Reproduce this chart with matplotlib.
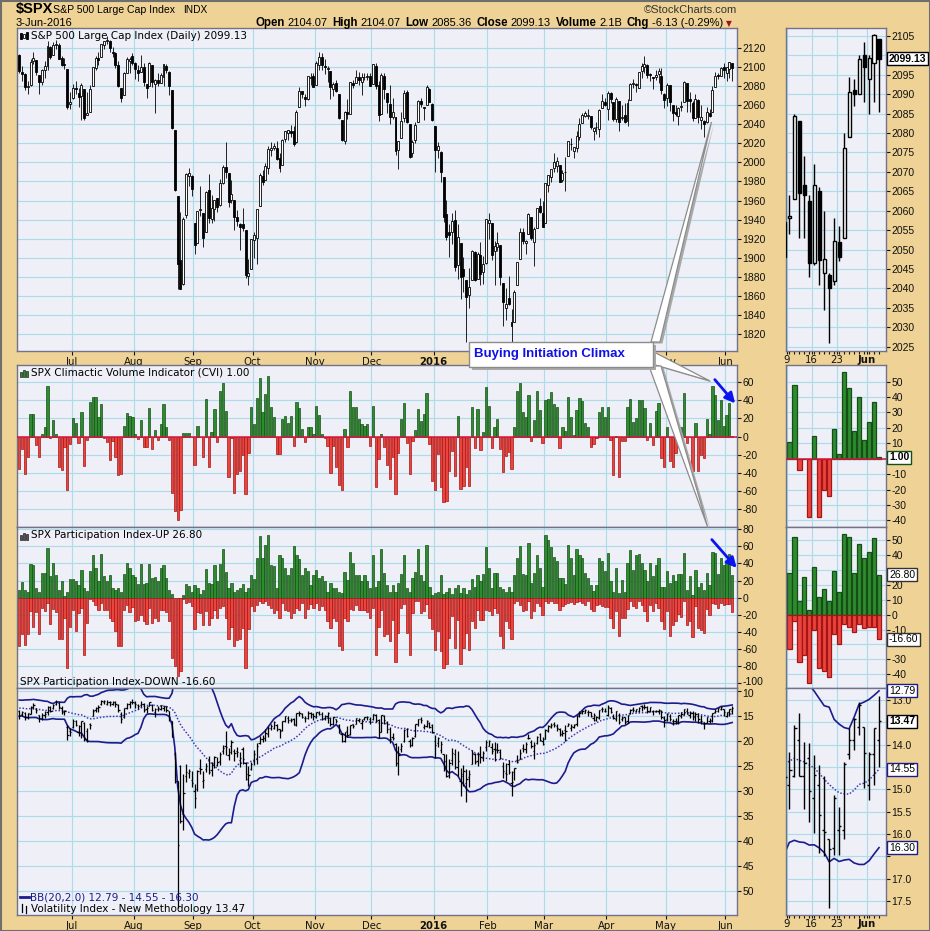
import numpy as np
import pandas as pd
import matplotlib
matplotlib.use('Agg')
import matplotlib.pyplot as plt
import matplotlib.transforms as mtrans
from matplotlib.patches import Rectangle, Polygon, FancyArrowPatch

# ---------------- data (daily, 4-Jun-2015 .. 3-Jun-2016) ----------------
holidays = ['2015-07-03', '2015-09-07', '2015-11-26', '2015-12-25', '2016-01-01',
            '2016-01-18', '2016-02-15', '2016-03-25', '2016-05-30']

spx_open = [
    2112, 2095, 2092, 2079, 2081, 2106, 2107, 2091, 2084, 2097, 2101, 2121, 2112, 2123, 2123, 2109, 2103, 2098, 2061,
    2067, 2078, 2073, 2069, 2077, 2050, 2053, 2080, 2099, 2109, 2110, 2123, 2127, 2127, 2115, 2114, 2102, 2078, 2070, 2094, 2106, 2111,
    2104, 2097, 2095, 2100, 2082, 2080, 2102, 2082, 2086, 2083, 2089, 2101, 2095, 2076, 2034, 1965, 1898, 1873, 1945, 1986, 1986,
    1936, 1916, 1950, 1947, 1927, 1971, 1941, 1951, 1963, 1955, 1978, 1995, 1989, 1961, 1961, 1943, 1935, 1935, 1929, 1881, 1888,
    1919, 1921, 1954, 1986, 1982, 1994, 2013, 2015, 2015, 2004, 1997, 2024, 2031, 2033, 2033, 2021, 2058, 2075, 2068, 2066, 2088, 2090,
    2081, 2102, 2110, 2101, 2098, 2096, 2077, 2083, 2072, 2044, 2022, 2053, 2051, 2083, 2083, 2089, 2084, 2089, 2089, 2090,
    2082, 2101, 2081, 2051, 2090, 2073, 2061, 2047, 2047, 2013, 2025, 2046, 2074, 2040, 2010, 2023, 2042, 2064, 2058, 2060, 2077, 2061,
    2038, 2013, 2011, 1985, 1946, 1927, 1927, 1940, 1892, 1916, 1888, 1877, 1861, 1877, 1906, 1878, 1903, 1885, 1895,
    1936, 1936, 1907, 1911, 1913, 1874, 1848, 1858, 1833, 1833, 1872, 1899, 1927, 1916, 1925, 1943, 1917, 1931, 1954, 1947,
    1937, 1976, 1985, 1994, 1996, 1997, 1981, 1990, 2007, 2019, 2012, 2015, 2027, 2041, 2049, 2048, 2049, 2033, 2037, 2035, 2057, 2063,
    2056, 2073, 2063, 2045, 2064, 2046, 2050, 2043, 2065, 2082, 2082, 2078, 2096, 2100, 2102, 2092, 2089, 2089, 2092, 2090, 2071,
    2067, 2081, 2060, 2053, 2048, 2058, 2063, 2083, 2066.5, 2062.5, 2046.5, 2065, 2044, 2043.5, 2042, 2052, 2053, 2079, 2091, 2090, 2100,
    2094, 2098, 2104.07]
spx_high = [
    2113, 2101, 2093, 2085, 2108, 2115, 2107, 2091, 2098, 2106, 2127, 2122, 2126, 2128, 2125, 2111, 2109, 2098, 2074,
    2082, 2085, 2078, 2083, 2077, 2074, 2081, 2100, 2111, 2115, 2124, 2126, 2132, 2128, 2121, 2116, 2106, 2078, 2095, 2110, 2110, 2114,
    2105, 2102, 2112, 2104, 2082, 2105, 2102, 2087, 2093, 2093, 2103, 2103, 2096, 2076, 2034, 1965, 1948, 1943, 1989, 1994, 1987,
    1936, 1949, 1975, 1947, 1970, 1988, 1966, 1961, 1963, 1983, 1997, 2021, 1989, 1981, 1961, 1950, 1937, 1952, 1929, 1899, 1920,
    1927, 1951, 1989, 1992, 1999, 2017, 2021, 2020, 2022, 2010, 2024, 2033, 2034, 2039, 2038, 2055, 2079, 2075, 2071, 2090, 2094, 2094,
    2106, 2116, 2114, 2108, 2101, 2096, 2084, 2086, 2072, 2044, 2054, 2066, 2084, 2086, 2097, 2095, 2094, 2094, 2094, 2094,
    2103, 2104, 2085, 2094, 2093, 2073, 2081, 2067, 2047, 2022, 2053, 2076, 2076, 2040, 2023, 2042, 2065, 2067, 2058, 2081, 2078, 2062,
    2038, 2021, 2012, 1985, 1961, 1935, 1947, 1950, 1935, 1916, 1901, 1877, 1889, 1908, 1907, 1906, 1917, 1902, 1940,
    1947, 1936, 1918, 1927, 1913, 1874, 1868, 1881, 1846, 1866, 1896, 1931, 1931, 1919, 1947, 1943, 1932, 1952, 1963, 1959,
    1978, 1986, 1993, 2010, 2006, 1997, 1992, 2006, 2022, 2025, 2016, 2033, 2046, 2052, 2054, 2056, 2049, 2037, 2042, 2056, 2072, 2067,
    2075, 2074, 2056, 2068, 2064, 2060, 2062, 2066, 2083, 2087, 2083, 2095, 2104, 2111, 2103, 2094, 2089, 2097, 2099, 2099, 2073,
    2083, 2081, 2060, 2060, 2058, 2064, 2085, 2083, 2074, 2064, 2072, 2066, 2060, 2044, 2058, 2056, 2080, 2094.5, 2094, 2100, 2103.5,
    2100, 2105.5, 2104.07]
spx_low = [
    2093, 2085, 2076, 2072, 2080, 2103, 2091, 2072, 2081, 2088, 2097, 2108, 2112, 2119, 2108, 2101, 2098, 2056, 2056,
    2066, 2071, 2058, 2044, 2044, 2050, 2053, 2080, 2097, 2102, 2110, 2119, 2124, 2116, 2110, 2099, 2079, 2063, 2070, 2094, 2094, 2102,
    2087, 2085, 2095, 2080, 2067, 2080, 2079, 2052, 2080, 2083, 2080, 2094, 2070, 2035, 1970, 1867, 1867, 1872, 1942, 1975, 1965,
    1904, 1916, 1944, 1911, 1927, 1937, 1937, 1939, 1948, 1954, 1977, 1984, 1953, 1957, 1929, 1933, 1908, 1928, 1879, 1872, 1888,
    1900, 1894, 1954, 1976, 1982, 1988, 2007, 2013, 2002, 1990, 1997, 2021, 2023, 2027, 2017, 2020, 2058, 2067, 2059, 2065, 2081, 2079,
    2081, 2097, 2097, 2092, 2084, 2066, 2069, 2074, 2045, 2022, 2019, 2045, 2051, 2078, 2083, 2081, 2070, 2086, 2086, 2080,
    2082, 2077, 2043, 2051, 2066, 2052, 2040, 2045, 2008, 1993, 2025, 2042, 2041, 2005, 2006, 2020, 2042, 2058, 2044, 2060, 2063, 2043,
    1990, 2004, 1979, 1938, 1919, 1901, 1914, 1886, 1878, 1857, 1864, 1812, 1848, 1877, 1876, 1878, 1872, 1873, 1894,
    1920, 1898, 1872, 1907, 1872, 1829, 1835, 1851, 1810, 1833, 1872, 1899, 1914, 1904, 1925, 1919, 1891, 1931, 1947, 1932,
    1937, 1969, 1979, 1990, 1990, 1979, 1979, 1970, 2007, 2013, 2005, 2011, 2023, 2042, 2047, 2045, 2035, 2023, 2030, 2026, 2057, 2059,
    2044, 2062, 2043, 2042, 2033, 2044, 2041, 2038, 2065, 2078, 2074, 2078, 2088, 2093, 2088, 2085, 2077, 2086, 2083, 2072, 2057,
    2059, 2054, 2043, 2049, 2039, 2054, 2063, 2053, 2053, 2043, 2046, 2041, 2034.5, 2026, 2041, 2047, 2053, 2079, 2087, 2090, 2088,
    2085, 2088, 2085.36]
spx_close = [
    2095.84, 2092.83, 2079.28, 2080.15, 2105.20, 2108.86, 2094.11, 2084.43, 2096.29, 2100.44, 2121.24, 2109.99, 2122.85, 2124.20, 2108.58, 2102.31, 2101.49, 2057.64, 2063.11,
    2077.42, 2076.78, 2068.76, 2081.34, 2046.68, 2051.31, 2076.62, 2099.60, 2108.95, 2107.40, 2124.29, 2126.64, 2128.28, 2119.21, 2114.15, 2102.15, 2079.65, 2067.64, 2093.25, 2108.57, 2108.63, 2103.84,
    2098.04, 2093.32, 2099.84, 2083.56, 2077.57, 2104.18, 2084.07, 2086.05, 2083.39, 2091.54, 2102.44, 2096.92, 2079.61, 2035.73, 1970.89, 1893.21, 1867.61, 1940.51, 1987.66, 1988.87, 1972.18,
    1913.85, 1948.86, 1951.13, 1921.22, 1969.41, 1942.04, 1952.29, 1961.05, 1953.03, 1978.09, 1995.31, 1990.20, 1958.03, 1966.97, 1942.74, 1938.76, 1932.24, 1931.34, 1881.77, 1884.09, 1920.03,
    1923.82, 1951.36, 1987.05, 1979.92, 1995.83, 2013.43, 2014.89, 2017.46, 2003.69, 1994.24, 2023.86, 2033.11, 2033.66, 2030.77, 2018.94, 2052.51, 2075.15, 2071.18, 2065.89, 2090.35, 2089.41, 2079.36,
    2104.05, 2109.79, 2102.31, 2099.93, 2099.20, 2078.58, 2081.72, 2075.00, 2045.97, 2023.04, 2053.19, 2050.44, 2083.58, 2081.24, 2089.17, 2086.59, 2089.14, 2088.87, 2090.11, 2080.41,
    2102.63, 2079.51, 2049.62, 2091.69, 2077.07, 2063.59, 2047.62, 2052.23, 2012.37, 2021.94, 2043.41, 2073.07, 2041.89, 2005.55, 2021.15, 2038.97, 2064.29, 2060.99, 2056.50, 2078.36, 2063.36, 2043.94,
    2012.66, 2016.71, 1990.26, 1943.09, 1922.03, 1923.67, 1938.68, 1890.28, 1921.84, 1880.33, 1881.33, 1859.33, 1868.99, 1906.90, 1877.08, 1903.63, 1882.95, 1893.36, 1940.24,
    1939.38, 1903.03, 1912.53, 1915.45, 1880.05, 1853.44, 1852.21, 1851.86, 1829.08, 1864.78, 1895.58, 1926.82, 1917.83, 1917.78, 1945.50, 1921.27, 1929.80, 1951.70, 1948.05, 1932.23,
    1978.35, 1986.45, 1993.40, 1999.99, 2001.76, 1979.26, 1989.26, 1989.57, 2022.19, 2019.64, 2015.93, 2027.22, 2040.59, 2049.58, 2051.60, 2049.80, 2036.71, 2035.94, 2037.05, 2055.01, 2063.95, 2059.74,
    2072.78, 2066.13, 2045.17, 2066.66, 2041.91, 2047.60, 2041.99, 2061.72, 2082.42, 2082.78, 2080.73, 2094.34, 2100.80, 2102.40, 2091.48, 2091.58, 2087.79, 2091.70, 2095.15, 2075.81, 2065.30,
    2081.43, 2063.37, 2051.12, 2050.63, 2057.14, 2058.69, 2084.39, 2064.46, 2064.11, 2046.61, 2066.66, 2047.21, 2047.63, 2040.04, 2052.32, 2048.04, 2076.06, 2090.54, 2090.10, 2099.06, 2096.95,
    2099.33, 2105.26, 2099.13]

cvi = [
    -36, -14, -41, -22, 25, 25, -9, -22, 3, 10, 56, -2, 18, 3, -33, -37, -12, -59, -8,
    20, 15, -7, 27, -32, -4, 38, 44, 44, 21, 36, -2, -6, -26, -5, -22, -42, -41, 12, 26, 23, 22,
    3, -3, 18, -11, -11, 31, -14, 7, -4, 14, 36, 11, -4, -62, -82, -92, -81, 4, 4, 4, 0,
    -31, 12, 0, -22, 41, -33, 5, 30, -6, 50, 59, 28, -45, -2, -62, -41, -38, -20, -63, -18, 32,
    14, 43, 65, 27, 47, 67, 33, 22, -19, -19, 19, 23, 15, 23, -10, 38, 31, 8, -6, 11, 11, 3,
    34, 24, 3, -2, -10, -40, -10, -34, -53, -59, 8, -12, 50, 33, 33, 19, 14, 12, 14, -10,
    34, -56, -25, 3, -12, -31, -47, -22, -63, -18, 19, 37, -7, -41, -5, 7, 30, 17, 25, 48, -8, -49,
    -59, -19, -56, -72, -71, -38, -16, -43, 23, -58, -55, -34, -55, 32, -13, 30, -15, 5, 55,
    34, -13, 11, 19, -14, -39, -21, -17, -36, 10, 50, 59, 27, 22, 46, -5, 18, 50, 29, -7,
    40, 41, 49, 36, 33, -13, 10, 6, 44, 21, 2, 29, 43, 39, 15, 10, -11, -8, -2, 27, 32, 22,
    32, -4, -42, 1, -44, -5, -5, 33, 41, 16, 20, 40, 40, 31, -4, 15, -9, 28, 37, -24, -34,
    10, -27, -34, -18, 5, 11, 48, -7, 0, -38, 15, -38, -20, -24, 19, 3, 56, 46, 18, 40, 12,
    24, 37, 1.00]

pi_up = [
    9, 18, 9, 7, 39, 38, 11, 7, 29, 29, 58, 25, 41, 27, 9, 19, 2, 7, 22,
    22, 19, 15, 32, 11, 8, 31, 50, 35, 19, 51, 25, 19, 27, 11, 9, 11, 7, 28, 41, 35, 27,
    24, 16, 39, 16, 17, 39, 23, 24, 19, 35, 38, 23, 9, 4, 0, 0, 0, 3, 16, 14, 7,
    15, 11, 4, 9, 33, 17, 16, 38, 19, 39, 57, 30, 11, 17, 7, 9, 11, 16, 7, 11, 27,
    22, 47, 72, 46, 62, 74, 38, 37, 11, 50, 46, 35, 27, 35, 60, 50, 45, 27, 35, 31, 15, 27,
    32, 23, 25, 19, 7, 17, 11, 11, 7, 5, 30, 21, 54, 41, 27, 27, 19, 26, 19, 11,
    50, 12, 19, 57, 29, 15, 7, 15, 7, 17, 28, 50, 11, 7, 23, 30, 57, 27, 19, 62, 12, 3,
    5, 7, 27, 4, 7, 11, 4, 11, 15, 5, 11, 4, 9, 22, 12, 27, 20, 28, 59,
    35, 11, 29, 29, 12, 10, 7, 12, 7, 27, 46, 61, 28, 27, 64, 17, 29, 50, 35, 13,
    73, 67, 59, 48, 43, 23, 23, 16, 62, 46, 27, 57, 50, 46, 29, 23, 15, 8, 15, 47, 43, 31,
    52, 19, 6, 35, 5, 21, 7, 41, 56, 32, 50, 51, 41, 32, 20, 41, 25, 38, 46, 12, 13,
    31, 17, 27, 19, 27.6, 28, 52, 9, 25, 3.4, 32, 12, 17, 9, 29, 15, 54, 52, 28, 47, 38,
    42, 51, 26.80]
pi_down = [
    -57, -43, -55, -43, -16, -34, -17, -43, -12, -16, -6, -31, -13, -17, -49, -49, -24, -82, -35,
    -15, -39, -18, -12, -67, -30, -2, -4, -9, -14, -6, -14, -14, -24, -28, -39, -57, -57, -14, -9, -17, -11,
    -28, -26, -20, -28, -31, -12, -30, -24, -28, -15, -14, -17, -28, -71, -80, -92, -86, -2, -6, -5, -10,
    -37, -17, -18, -32, -16, -32, -24, -14, -24, -12, -10, -24, -49, -34, -57, -50, -49, -36, -82, -37, -10,
    -16, -9, -4, -6, -4, -9, -12, -18, -15, -24, -6, -15, -16, -24, -18, -12, -14, -6, -24, -13, -8, -12,
    -6, -14, -10, -15, -28, -36, -24, -28, -57, -62, -24, -28, -13, -15, -9, -15, -14, -14, -17, -24,
    -12, -67, -35, -14, -45, -43, -51, -26, -75, -41, -12, -7, -41, -67, -18, -4, -4, -18, -16, -7, -24, -37,
    -61, -39, -63, -82, -78, -47, -22, -59, -26, -78, -59, -41, -61, -28, -36, -14, -26, -26, -15,
    -16, -20, -12, -18, -45, -59, -28, -36, -49, -6, -4, -9, -16, -14, -4, -24, -16, -6, -10, -20,
    -4, -6, -4, -6, -6, -14, -10, -8, -6, -5, -8, -5, -4, -6, -9, -4, -13, -16, -9, -7, -10, -11,
    -11, -24, -36, -16, -45, -24, -24, -13, -4, -10, -12, -4, -9, -16, -28, -9, -16, -6, -12, -28, -37,
    -16, -45, -32, -28, -19, -23, -4, -32, -27, -46, -10, -36, -38, -42, -13, -20, -6, -8, -12, -6, -9,
    -8, -8, -16.60]

vix_prior = [14.71, 12.86, 13.85, 13.86, 13.76, 12.74, 12.38, 12.73, 12.85, 12.88,
             12.11, 12.13, 14.06, 13.27, 13.31, 13.84, 14.73, 14.24, 13.66]
vix_open = [
    13.9, 14.5, 14.4, 15.1, 14.5, 13.1, 13.6, 14.8, 15.4, 14.8, 14.1, 13.2, 13.4, 12.6, 12.4, 13.3, 14.1, 17.1, 17.9,
    17.1, 16.0, 18.1, 17.0, 16.4, 18.0, 16.5, 14.9, 13.8, 13.3, 12.6, 12.1, 12.6, 12.2, 12.5, 12.1, 12.7, 14.5, 15.2, 13.4, 12.6, 12.1,
    12.3, 12.7, 12.8, 12.5, 13.6, 13.0, 12.8, 14.1, 13.6, 13.6, 13.4, 13.0, 14.0, 15.9, 22.6, 28.0, 25.0, 34.5, 27.0, 26.3, 27.8,
    30.0, 29.6, 25.3, 27.9, 25.6, 23.5, 25.8, 24.8, 24.7, 24.0, 22.0, 21.0, 22.7, 21.0, 22.0, 22.0, 23.8, 21.5, 24.4, 26.5, 25.5,
    24.0, 23.6, 20.4, 19.6, 19.4, 18.6, 17.3, 17.3, 16.7, 17.6, 17.8, 15.9, 15.4, 15.7, 15.6, 16.6, 14.3, 14.6, 15.4, 15.3, 14.3, 14.6,
    15.2, 14.3, 14.5, 15.4, 15.0, 15.4, 16.5, 15.6, 16.8, 18.6, 19.9, 18.0, 18.6, 16.6, 16.5, 15.8, 16.3, 15.6, 15.2, 15.5,
    15.6, 14.8, 15.8, 18.1, 14.9, 16.2, 17.5, 19.1, 20.6, 24.4, 21.5, 19.9, 17.5, 20.0, 20.8, 19.0, 16.6, 15.6, 17.1, 16.9, 16.3, 16.7,
    19.9, 20.3, 21.7, 22.6, 24.0, 26.8, 23.7, 22.5, 25.1, 28.0, 26.6, 28.3, 27.1, 24.5, 22.6, 24.0, 22.6, 23.3, 21.2,
    20.9, 21.1, 21.5, 21.7, 22.2, 25.0, 26.3, 24.6, 28.4, 26.1, 23.8, 23.5, 21.4, 21.5, 19.3, 20.1, 21.9, 20.3, 18.6, 19.9,
    19.5, 18.0, 17.2, 16.6, 17.0, 17.6, 18.5, 17.8, 16.9, 17.3, 17.1, 16.6, 14.8, 14.2, 14.3, 14.2, 14.2, 15.4, 15.7, 15.4, 13.6, 13.9,
    14.8, 13.4, 14.9, 15.6, 14.7, 15.5, 15.1, 15.9, 14.4, 13.6, 14.0, 13.9, 13.0, 13.1, 13.1, 13.9, 14.0, 14.0, 14.0, 14.0, 15.3,
    15.5, 14.9, 15.9, 15.9, 16.2, 14.9, 14.7, 13.9, 14.7, 14.3, 15.2, 14.9, 15.9, 16.1, 16.3, 15.9, 15.9, 14.2, 13.9, 13.6, 13.6,
    14.9, 14.2, 13.9]
vix_high = [
    15.5, 15.0, 15.8, 15.5, 14.6, 13.5, 14.4, 16.1, 15.7, 15.4, 14.8, 14.2, 13.6, 12.8, 13.5, 14.6, 14.8, 19.8, 19.0,
    17.4, 17.0, 18.9, 19.3, 20.0, 20.1, 17.5, 15.0, 14.1, 14.2, 12.7, 12.5, 12.8, 13.0, 12.8, 13.1, 14.2, 16.3, 15.3, 13.5, 13.4, 12.6,
    13.4, 13.6, 13.2, 14.2, 14.4, 13.0, 13.9, 15.2, 14.0, 13.8, 13.9, 14.2, 15.9, 19.2, 28.4, 53.3, 36.4, 37.8, 28.1, 27.3, 29.1,
    33.4, 30.0, 26.5, 29.3, 26.2, 26.6, 27.0, 25.3, 25.0, 24.7, 22.5, 22.7, 23.7, 22.6, 24.0, 23.1, 25.2, 24.6, 27.8, 28.9, 25.8,
    24.8, 24.5, 20.6, 20.2, 19.9, 19.1, 17.8, 17.5, 18.0, 19.3, 17.9, 16.1, 16.3, 16.2, 16.8, 17.0, 15.0, 15.4, 16.2, 15.6, 15.4, 15.8,
    15.3, 14.8, 15.8, 15.8, 16.4, 17.0, 16.8, 16.4, 18.4, 20.1, 20.1, 19.2, 18.7, 17.4, 16.6, 16.2, 17.5, 15.8, 15.8, 16.5,
    15.7, 16.1, 19.4, 18.1, 16.5, 18.4, 20.3, 19.8, 25.0, 26.8, 22.2, 20.2, 19.2, 21.1, 21.0, 19.1, 17.0, 16.3, 17.5, 17.1, 17.4, 18.3,
    23.4, 21.1, 22.4, 25.9, 27.1, 27.4, 24.8, 25.6, 26.9, 30.9, 28.9, 32.1, 29.1, 24.6, 24.6, 25.0, 24.4, 23.9, 22.0,
    21.0, 22.5, 24.0, 22.4, 23.5, 27.3, 28.0, 26.6, 30.9, 27.7, 24.3, 23.6, 22.1, 22.4, 19.5, 21.3, 23.6, 20.5, 20.0, 20.7,
    19.5, 18.1, 17.3, 17.2, 17.9, 19.0, 19.0, 19.9, 17.0, 17.9, 17.3, 16.9, 15.2, 14.6, 14.4, 14.9, 15.2, 15.9, 16.0, 15.5, 14.1, 14.2,
    15.0, 14.3, 15.6, 16.0, 16.6, 16.0, 16.5, 16.3, 14.6, 14.2, 14.2, 14.1, 13.9, 13.6, 14.4, 14.1, 14.8, 14.2, 14.6, 15.6, 17.1,
    15.9, 16.0, 16.8, 16.5, 16.5, 15.43, 14.72, 14.68, 15.43, 15.72, 15.98, 16.43, 16.5, 17.66, 16.47, 16.47, 16.1, 14.31, 14.12, 13.78, 14.97,
    15.24, 14.9, 14.5]
vix_low = [
    13.8, 14.0, 14.2, 14.3, 13.0, 12.4, 13.3, 14.7, 14.3, 13.9, 13.0, 13.0, 12.5, 11.8, 12.2, 13.0, 13.7, 16.8, 17.3,
    15.6, 15.8, 16.7, 15.9, 16.2, 17.3, 16.3, 13.6, 13.2, 12.8, 11.8, 11.8, 11.8, 12.0, 11.9, 12.0, 12.5, 14.2, 13.3, 12.4, 12.0, 11.6,
    12.0, 12.5, 12.0, 12.4, 13.0, 12.2, 12.6, 13.3, 12.9, 12.8, 12.9, 12.9, 13.9, 15.9, 22.2, 28.0, 24.8, 26.5, 24.6, 25.5, 26.0,
    28.5, 25.8, 23.5, 26.0, 24.4, 23.0, 24.1, 22.9, 23.2, 22.2, 20.8, 18.0, 21.3, 19.8, 21.6, 21.2, 22.1, 21.2, 24.2, 25.0, 24.1,
    21.8, 20.4, 18.9, 18.7, 17.6, 17.0, 16.6, 15.9, 16.5, 17.6, 15.9, 14.9, 15.0, 15.3, 15.3, 14.3, 13.9, 14.4, 14.9, 14.0, 14.2, 14.4,
    14.1, 13.9, 14.2, 14.8, 14.1, 15.4, 15.2, 15.5, 16.6, 18.3, 18.1, 17.0, 16.8, 16.6, 15.4, 15.4, 15.5, 15.1, 14.9, 15.2,
    14.6, 14.6, 15.5, 14.8, 14.8, 15.9, 17.2, 18.3, 20.4, 20.9, 20.4, 17.6, 17.4, 19.6, 19.2, 16.5, 15.5, 15.2, 16.6, 15.8, 16.2, 16.5,
    18.8, 19.2, 20.0, 22.5, 22.5, 23.5, 21.4, 21.5, 22.0, 25.3, 24.8, 25.5, 25.8, 21.8, 22.4, 22.1, 21.0, 21.9, 19.8,
    19.7, 20.4, 20.1, 20.3, 21.6, 24.2, 24.3, 23.7, 26.0, 25.3, 22.8, 21.6, 20.5, 20.2, 18.6, 19.8, 20.2, 18.9, 18.4, 19.2,
    17.6, 16.7, 16.3, 16.2, 16.5, 17.4, 17.7, 16.7, 16.4, 16.6, 16.5, 14.8, 14.0, 13.7, 13.6, 13.7, 14.1, 14.4, 14.9, 13.7, 13.2, 13.4,
    12.8, 13.2, 14.5, 13.9, 14.4, 14.9, 15.1, 14.7, 13.6, 13.2, 13.5, 13.2, 12.7, 12.5, 13.0, 13.1, 13.8, 13.7, 13.5, 13.8, 14.9,
    14.3, 14.6, 15.5, 15.4, 14.7, 14.16, 13.56, 13.3, 13.93, 13.97, 14.23, 14.46, 14.7, 16.28, 15.13, 15.39, 14.38, 13.63, 13.41, 13.04, 13.63,
    14.16, 13.63, 12.9]
vix_close = [
    14.71, 14.21, 15.29, 14.47, 13.22, 12.85, 13.78, 15.39, 14.81, 14.50, 13.19, 13.96, 12.74, 12.11, 13.26, 14.01, 14.02, 18.85, 18.23,
    16.09, 16.79, 17.01, 16.09, 19.66, 19.97, 16.83, 13.90, 13.37, 13.23, 11.95, 11.95, 12.25, 12.22, 12.12, 12.64, 13.74, 15.60, 13.44, 12.50, 12.13, 12.12,
    12.56, 13.00, 12.51, 13.77, 13.39, 12.23, 13.71, 13.61, 13.49, 12.83, 13.02, 13.79, 15.25, 19.14, 28.03, 40.74, 36.02, 30.32, 26.10, 26.05, 28.43,
    31.40, 26.09, 25.61, 27.80, 24.90, 26.23, 24.37, 23.20, 24.25, 22.54, 21.35, 21.14, 22.28, 20.14, 22.44, 22.13, 23.47, 23.62, 27.63, 26.83, 24.50,
    22.55, 20.94, 19.54, 19.40, 18.40, 17.42, 17.08, 16.17, 17.67, 18.03, 16.05, 15.05, 15.75, 15.75, 16.70, 14.45, 14.46, 15.29, 15.43, 14.33, 14.61, 15.07,
    14.15, 14.54, 15.51, 15.05, 14.33, 16.52, 15.29, 16.06, 18.37, 20.08, 18.16, 18.84, 16.85, 16.99, 15.47, 15.62, 15.93, 15.19, 15.12, 16.13,
    14.67, 15.91, 18.11, 14.81, 15.84, 17.60, 19.61, 19.34, 24.39, 22.73, 20.95, 17.86, 18.94, 20.70, 19.32, 16.60, 15.57, 15.74, 16.91, 16.08, 17.29, 18.21,
    20.70, 19.34, 20.59, 24.99, 27.01, 24.30, 22.47, 25.22, 23.95, 27.02, 26.05, 27.59, 26.69, 22.34, 24.15, 22.50, 23.11, 22.42, 20.20,
    19.98, 21.98, 21.65, 21.84, 23.38, 26.00, 26.54, 26.29, 28.14, 25.40, 24.11, 22.31, 21.64, 20.53, 19.38, 20.98, 20.72, 19.11, 19.81, 20.55,
    17.70, 17.09, 16.70, 16.86, 17.35, 18.67, 18.34, 18.05, 16.50, 16.92, 16.84, 14.99, 14.44, 14.02, 13.79, 14.17, 14.94, 14.74, 15.24, 13.82, 13.56, 13.95,
    13.10, 14.12, 15.42, 14.09, 16.16, 15.36, 16.26, 14.85, 13.84, 13.72, 13.62, 13.35, 13.24, 13.28, 13.95, 13.22, 14.08, 13.96, 13.77, 15.22, 15.70,
    14.68, 15.60, 16.05, 15.91, 14.72, 14.57, 13.63, 14.69, 14.41, 15.04, 14.68, 15.57, 15.95, 16.33, 15.20, 15.82, 14.42, 13.90, 13.43, 13.12, 14.19,
    14.20, 13.63, 13.47]

# ---------------- styling ----------------
W, H = 930, 931
TAN = '#EFD396'
PANEL = '#EEEFF7'
GRID = '#AADCEA'
FRAME = '#72728A'
GREEN, GREEN_E = '#2F8B2F', '#164F16'
RED, RED_E = '#E8453F', '#A81414'
NAVY = '#1C1C8C'
LAB = 'Liberation Sans'

plt.rcParams['font.family'] = ['DejaVu Sans']

fig = plt.figure(figsize=(W / 100, H / 100), dpi=100)
fig.patch.set_facecolor(TAN)

dates = pd.bdate_range('2015-06-04', '2016-06-03', freq='C', holidays=holidays)
n = len(dates)
xi = np.arange(n)
per = dates.to_period('M')
starts = [i for i in range(1, n) if per[i] != per[i - 1]]
mlabels = ['2016' if dates[i].month == 1 else dates[i].strftime('%b') for i in starts]
mgrid = np.array(starts) - 0.5

wk_pos = [233.5, 238.5, 243.5, 249.5]
wk_lab = ['9', '16', '23', 'Jun']

MAIN_X = (-0.96, 253.7)
MINI_X = (233.24, 253.4)


def panel(x0, y0, x1, y1):
    ax = fig.add_axes([x0 / W, 1 - y1 / H, (x1 - x0) / W, (y1 - y0) / H])
    ax.set_facecolor(PANEL)
    for sp in ax.spines.values():
        sp.set_color(FRAME)
        sp.set_linewidth(1.0)
    ax.set_axisbelow(True)
    return ax


def yaxis(ax, ticks, labels, lim, hide=()):
    ax.set_ylim(*lim)
    ax.yaxis.tick_right()
    ax.set_yticks(ticks)
    ax.set_yticklabels(['' if l in hide else l for l in labels], fontsize=7.5, family=LAB)
    ax.tick_params(axis='y', direction='out', length=3, width=0.8, pad=1, colors='#111111')
    ax.grid(True, color=GRID, lw=0.8)


def nudge(ax, text, dy_px):
    # shift one y tick label vertically by a few pixels
    for t in ax.get_yticklabels():
        if t.get_text() == text:
            t.set_transform(t.get_transform() + mtrans.ScaledTranslation(0, -dy_px / 100, fig.dpi_scale_trans))


def xmain(ax, show, hide=()):
    ax.set_xlim(*MAIN_X)
    ax.set_xticks(mgrid)
    if show:
        ax.set_xticklabels(['' if l in hide else l for l in mlabels], fontsize=7.3)
        for t in ax.get_xticklabels():
            if t.get_text() == '2016':
                t.set_fontweight('bold')
        ax.tick_params(axis='x', length=3, width=0.8, pad=1.2, colors='#111111')
    else:
        ax.set_xticklabels([])
        ax.tick_params(axis='x', length=0)


def xmini(ax, show):
    ax.set_xlim(*MINI_X)
    ax.set_xticks(wk_pos)
    ax.set_xticks(np.arange(234, n), minor=True)
    if show:
        ax.set_xticklabels(wk_lab, fontsize=7.3)
        ax.get_xticklabels()[-1].set_fontweight('bold')
        ax.tick_params(axis='x', which='both', length=2, width=0.8, pad=1.2, colors='#111111')
    else:
        ax.set_xticklabels([])
        ax.tick_params(axis='x', which='both', length=0)


def candles(ax, width, lw):
    o = np.array(spx_open); c = np.array(spx_close)
    hi = np.maximum(np.array(spx_high), np.maximum(o, c))
    lo = np.minimum(np.array(spx_low), np.minimum(o, c))
    ax.vlines(xi, lo, hi, color='black', lw=lw, zorder=2)
    bot = np.minimum(o, c)
    ht = np.maximum(np.abs(c - o), 0.25)
    fc = ['white' if cc >= oo else 'black' for oo, cc in zip(o, c)]
    ax.bar(xi, ht, bottom=bot, width=width, color=fc, edgecolor='black', lw=lw, zorder=3)


def histo(ax, vals, width, lw):
    v = np.array(vals, dtype=float)
    col = [GREEN if a >= 0 else RED for a in v]
    ec = [GREEN_E if a >= 0 else RED_E for a in v]
    ax.bar(xi, v, width=width, color=col, edgecolor=ec, lw=lw, zorder=2)


def ohlc(ax, tick, lw):
    o = np.array(vix_open); c = np.array(vix_close)
    hi = np.maximum(np.array(vix_high), np.maximum(o, c))
    lo = np.minimum(np.array(vix_low), np.minimum(o, c))
    ax.vlines(xi, lo, hi, color='black', lw=lw, zorder=3)
    ax.hlines(o, xi - tick, xi, color='black', lw=lw, zorder=3)
    ax.hlines(c, xi, xi + tick, color='black', lw=lw, zorder=3)


allc = pd.Series(vix_prior + vix_close)
bb_mid = allc.rolling(20).mean().to_numpy()[len(vix_prior):]
bb_sd = allc.rolling(20).std(ddof=0).to_numpy()[len(vix_prior):]
bb_up, bb_lo = bb_mid - 2 * bb_sd, bb_mid + 2 * bb_sd


def bands(ax, lw):
    ax.plot(xi, bb_up, color=NAVY, lw=lw, zorder=2)
    ax.plot(xi, bb_lo, color=NAVY, lw=lw, zorder=2)
    ax.plot(xi, bb_mid, color='#3A3AB0', lw=lw * 0.9, ls=(0, (1, 1.2)), zorder=2)


def tag(ax, y, s, ec, bold=False):
    ax.text(1.03, y, s, transform=ax.get_yaxis_transform(), ha='left', va='center',
            fontsize=7.5, family=LAB, fontweight='bold' if bold else 'normal',
            bbox=dict(boxstyle='square,pad=0.15', fc='white', ec=ec, lw=1), clip_on=False, zorder=10)


LX0, LX1, RX0, RX1 = 16.5, 737, 785.5, 886

# ---- price ----
ap = panel(LX0, 28, LX1, 351)
candles(ap, 0.7, 0.6)
yaxis(ap, np.arange(1820, 2121, 20), [str(v) for v in range(1820, 2121, 20)], (1802.5, 2140.6))
# Feb / Mar / Apr sit under the callout box in the reference
xmain(ap, True, hide=('Feb', 'Mar', 'Apr'))

mp = panel(RX0, 28, RX1, 351)
candles(mp, 0.62, 1.0)
yaxis(mp, np.arange(2025, 2106, 5), [str(v) for v in range(2025, 2106, 5)], (2023.9, 2107),
      hide=('2100',))
xmini(mp, True)
tag(mp, 2099.13, '2099.13', 'black', bold=True)

# ---- CVI ----
ac = panel(LX0, 365, LX1, 527)
histo(ac, cvi, 0.8, 0.5)
ac.axhline(0, color='#D8143C', lw=1.1, zorder=4)
yaxis(ac, np.arange(-80, 61, 20), [str(v) for v in range(-80, 61, 20)], (-99.6, 78.8))
xmain(ac, False)

mc = panel(RX0, 365, RX1, 527)
histo(mc, cvi, 0.9, 0.9)
mc.axhline(0, color='#D8143C', lw=1.1, zorder=4)
yaxis(mc, np.arange(-40, 51, 10), [str(v) for v in range(-40, 51, 10)], (-44.3, 60.8), hide=('0',))
xmini(mc, False)
tag(mc, 1.0, '1.00', GREEN_E, bold=True)

# ---- Participation index ----
ai = panel(LX0, 527, LX1, 688)
histo(ai, pi_up, 0.8, 0.5)
histo(ai, pi_down, 0.8, 0.5)
yaxis(ai, np.arange(-100, 81, 20), [str(v) for v in range(-100, 81, 20)], (-106, 82.8))
nudge(ai, '-100', -2)
xmain(ai, False)

mi = panel(RX0, 527, RX1, 688)
histo(mi, pi_up, 0.9, 0.9)
histo(mi, pi_down, 0.9, 0.9)
yaxis(mi, np.arange(-40, 51, 10), [str(v) for v in range(-40, 51, 10)], (-49.2, 58.7),
      hide=('30', '-20'))
xmini(mi, False)
tag(mi, 26.8, '26.80', '#333333')
tag(mi, -16.6, '-16.60', '#333333')

# ---- VIX ----
av = panel(LX0, 688, LX1, 915)
bands(av, 1.2)
ohlc(av, 0.45, 0.9)
yaxis(av, np.arange(10, 51, 5), [str(v) for v in range(10, 51, 5)], (54.8, 9.4))
nudge(av, '10', 2)
xmain(av, True)

mv = panel(RX0, 688, RX1, 915)
bands(mv, 1.2)
ohlc(mv, 0.45, 1.0)
yaxis(mv, np.arange(13, 17.6, 0.5), ['%.1f' % v for v in np.arange(13, 17.6, 0.5)], (17.81, 12.73),
      hide=('13.5', '14.5', '16.5'))
xmini(mv, True)
tag(mv, bb_up[-1], '%.2f' % bb_up[-1], NAVY)
tag(mv, vix_close[-1], '%.2f' % vix_close[-1], 'black', bold=True)
tag(mv, bb_mid[-1], '%.2f' % bb_mid[-1], NAVY)
tag(mv, bb_lo[-1], '%.2f' % bb_lo[-1], NAVY)

# ---- overlay in pixel coordinates ----
ov = fig.add_axes([0, 0, 1, 1], zorder=20)
ov.set_xlim(0, W)
ov.set_ylim(H, 0)
ov.axis('off')
ov.patch.set_alpha(0)

# header
ov.text(16, 12.7, '$SPX', fontsize=10.5, fontweight='bold', family=LAB, va='baseline')
ov.text(53, 12.7, 'S&P 500 Large Cap Index', fontsize=7.6, family=LAB, va='baseline')
ov.text(183, 12.7, 'INDX', fontsize=7.3, family=LAB, va='baseline')
ov.text(737, 12.7, '\u00a9StockCharts.com', fontsize=8, family=LAB, va='baseline', ha='right', color='#333333')
ov.text(16, 26, '3-Jun-2016', fontsize=8, family=LAB, va='baseline')

pieces = [('Open', 'bold'), ('2104.07', 'normal'), ('High', 'bold'), ('2104.07', 'normal'),
          ('Low', 'bold'), ('2085.36', 'normal'), ('Close', 'bold'), ('2099.13', 'normal'),
          ('Volume', 'bold'), ('2.1B', 'normal'), ('Chg', 'bold'), ('-6.13 (-0.29%)', 'normal')]
rend = fig.canvas.get_renderer()
objs = []
total = 0
for s, w in pieces:
    t = ov.text(0, 26, s, fontsize=8.3 if w == 'bold' else 8, fontweight=w, family=LAB, va='baseline')
    wd = t.get_window_extent(rend).width
    objs.append((t, wd, w))
    total += wd + (2.5 if w == 'bold' else 5)
xp = 728 - total
for t, wd, w in objs:
    t.set_x(xp)
    xp += wd + (2.5 if w == 'bold' else 5)
ov.text(xp - 2, 26, '\u25bc', fontsize=5.5, color='#A0102A', va='baseline')

# panel titles
ov.text(31, 36, 'S&P 500 Large Cap Index (Daily) 2099.13', fontsize=7.5, va='center')
ov.text(31, 372.5, 'SPX Climactic Volume Indicator (CVI) 1.00', fontsize=7.5, va='center')
ov.text(31, 535, 'SPX Participation Index-UP 26.80', fontsize=7.5, va='center')
ov.text(20, 682, 'SPX Participation Index-DOWN -16.60', fontsize=7.5, va='center')
ov.text(30, 897, 'BB(20,2.0) 12.79 - 14.55 - 16.30', fontsize=7.5, va='center', color=NAVY)
ov.plot([20, 29], [897, 897], color=NAVY, lw=2)
ov.text(31, 908.5, 'Volatility Index - New Methodology 13.47', fontsize=7.5, va='center')

# little legend icons
for k, (yy, hh, f) in enumerate([(33, 6, 'black'), (34, 4, 'white'), (32, 7, 'black')]):
    ov.add_patch(Rectangle((20 + 3 * k, yy), 2, hh, fc=f, ec='black', lw=0.6))
for yt in (369, 532):
    for k, hh in enumerate([5, 7, 6]):
        ov.add_patch(Rectangle((20 + 3 * k, yt + 8 - hh), 2.2, hh, fc=GREEN if yt == 369 else '#555555',
                               ec='black', lw=0.4))
for k, (a, b) in enumerate([(904, 912), (906, 913)]):
    ov.plot([22 + 4 * k, 22 + 4 * k], [a, b], color='black', lw=0.9)

# callout box with wedges
SH = '#A9A9A9'
wedges = [[(651, 342), (660, 342), (711.5, 122)],
          [(652, 351), (652, 364), (710, 381)],
          [(649, 366), (661, 366), (708, 528)]]
for wpts in wedges:
    ov.add_patch(Polygon([(x + 2.5, y + 1.5) for x, y in wpts], closed=True, fc=SH, ec='none', zorder=5))
for wpts in wedges:
    ov.add_patch(Polygon(wpts, closed=True, fc='white', ec='#8C8C8C', lw=0.9, zorder=6))
ov.add_patch(Rectangle((472, 345), 184, 25, fc=SH, ec='none', zorder=6))
ov.add_patch(Rectangle((469, 342), 184, 25, fc='white', ec='#8C8C8C', lw=1, zorder=7))
ov.text(474, 354.5, 'Buying Initiation Climax', fontsize=9.5, fontweight='bold', family=LAB,
        color='#1010E8', va='center', zorder=8)

# blue arrows
for p0, p1 in [((713, 377.5), (737, 405.5)), ((710, 537.5), (738.5, 570))]:
    ov.add_patch(FancyArrowPatch(p0, p1, arrowstyle='-|>', mutation_scale=15, lw=2,
                                 color='#0A14F0', zorder=9))

# outer border
ov.add_patch(Rectangle((0.5, 0.5), W - 1, H - 1, fill=False, ec='#6E6E6E', lw=1.5))

fig.savefig('out.png', dpi=100, facecolor=TAN)
